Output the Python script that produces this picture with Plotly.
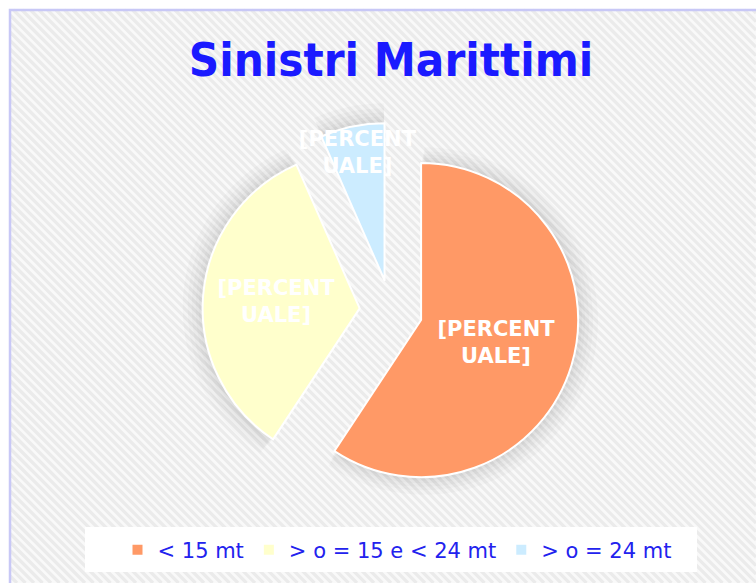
import plotly.graph_objects as go

# ---- data ----
categories = ["< 15 mt", "> o = 15 e < 24 mt", "> o = 24 mt"]
shares = [59.3, 34.1, 6.6]
slice_text = ["[PERCENT<br>UALE]", "[PERCENT<br>UALE]", "[PERCENT<br>UALE]"]
slice_colors = ["#FF9966", "#FFFFCC", "#CCECFF"]
title_text = "Sinistri Marittimi"

W, H = 756, 583

def px_x(p):
    return p / W

def px_y(p):
    return 1 - p / H

CX, CY, HALF = 391, 311, 188.5  # pie centre (px) and half domain size

fig = go.Figure()

# soft shadow halo built from the same data
for grow in [20, 15, 11, 7, 4]:
    fig.add_trace(go.Pie(
        labels=categories, values=shares, sort=False, direction="clockwise",
        rotation=0, pull=[0.2, 0.2, 0.2], textinfo="none", hoverinfo="skip",
        showlegend=False,
        marker=dict(colors=["rgba(0,0,0,0.02)"] * 3, line=dict(width=0)),
        domain=dict(x=[px_x(CX - HALF - grow), px_x(CX + HALF + grow)],
                    y=[px_y(CY + HALF + grow), px_y(CY - HALF - grow)]),
    ))

fig.add_trace(go.Pie(
    labels=categories,
    values=shares,
    text=slice_text,
    textinfo="text",
    textposition="inside",
    insidetextorientation="horizontal",
    textfont=dict(family="DejaVu Sans", size=21, color="white", weight="bold"),
    marker=dict(colors=slice_colors, line=dict(color="white", width=2)),
    sort=False,
    direction="clockwise",
    rotation=0,
    pull=[0.2, 0.2, 0.2],
    hoverinfo="label+percent",
    domain=dict(x=[px_x(CX - HALF), px_x(CX + HALF)],
                y=[px_y(CY + HALF), px_y(CY - HALF)]),
))

# ---- background: frame + diagonal stripes ----
shapes = []
fx0, fy0 = 10, 10  # frame position in px
shapes.append(dict(type="rect", xref="paper", yref="paper",
                   x0=fx0 / W, x1=1.05, y0=-0.05, y1=1 - fy0 / H,
                   fillcolor="#f9f9f9", line=dict(width=0), layer="below"))
step = 8.5
c = -H
while c < W:
    xs = max(fx0, fy0 + c)
    ys = xs - c
    xe = min(W, H + c)
    ye = xe - c
    if xe > xs:
        shapes.append(dict(type="line", xref="paper", yref="paper",
                           x0=xs / W, y0=1 - ys / H, x1=xe / W, y1=1 - ye / H,
                           line=dict(color="#ebebeb", width=3.2), layer="below"))
    c += step
shapes.append(dict(type="rect", xref="paper", yref="paper",
                   x0=fx0 / W, x1=1.05, y0=-0.05, y1=1 - fy0 / H,
                   line=dict(color="#c8c8f6", width=2.5), layer="below"))
# white legend panel
shapes.append(dict(type="rect", xref="paper", yref="paper",
                   x0=px_x(85), x1=px_x(697), y0=px_y(572), y1=px_y(527),
                   fillcolor="white", line=dict(width=0), layer="below"))

fig.update_layout(
    width=W, height=H,
    margin=dict(l=0, r=0, t=0, b=0),
    paper_bgcolor="white",
    plot_bgcolor="white",
    shapes=shapes,
    title=dict(text=title_text, x=px_x(391), xanchor="center",
               y=px_y(60), yanchor="middle",
               font=dict(family="DejaVu Sans Condensed, DejaVu Sans", size=47,
                         color="#1a1aff", weight="bold")),
    showlegend=True,
    legend=dict(orientation="h", x=px_x(397), xanchor="center",
                y=px_y(550), yanchor="middle",
                bgcolor="rgba(0,0,0,0)",
                font=dict(family="DejaVu Sans", size=21, color="#2222ee"),
                itemclick=False),
    uniformtext=dict(minsize=21, mode="show"),
)

fig.write_html(
    "out.html",
    config={"displayModeBar": False},
    post_script="document.body.style.margin='0';document.body.style.overflow='hidden';",
)
